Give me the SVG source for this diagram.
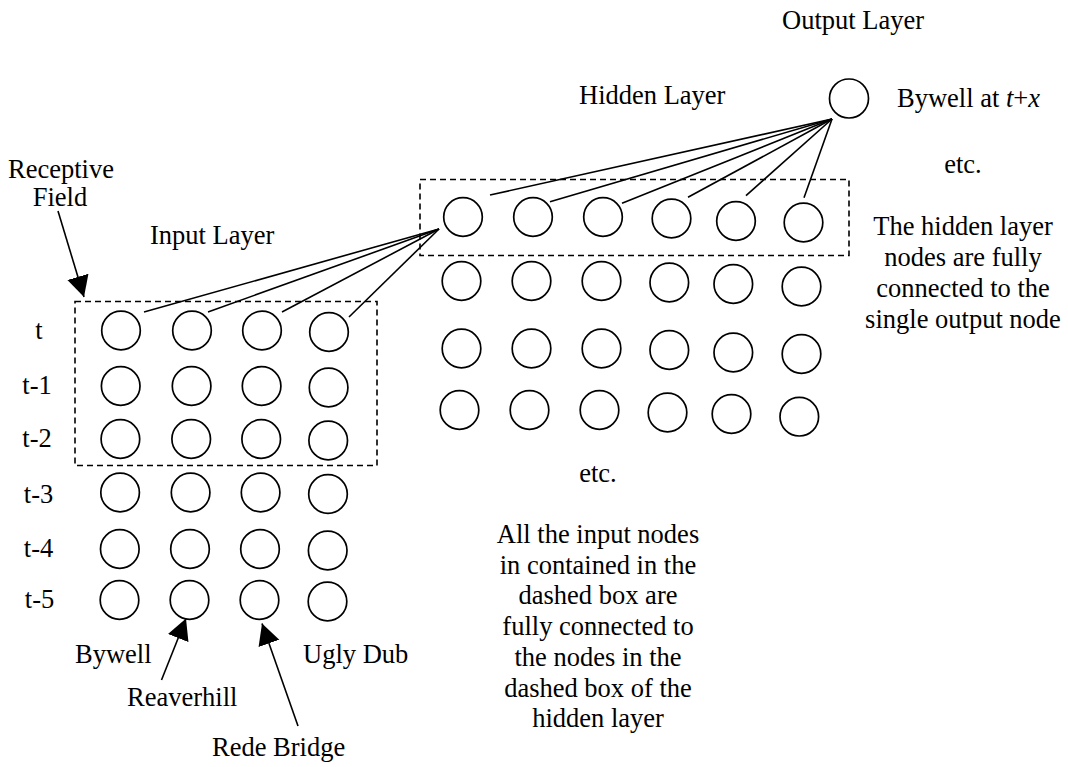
<svg xmlns="http://www.w3.org/2000/svg" width="1068" height="767" viewBox="0 0 1068 767">
  <style>
    .node { fill: none; stroke: #000; stroke-width: 1.7; }
    .field { fill: none; stroke: #000; stroke-width: 1.6; stroke-dasharray: 6 4; }
    .link { stroke: #000; stroke-width: 1.6; fill: none; }
    .pointer { stroke: #000; stroke-width: 1.6; fill: none; marker-end: url(#head); }
    text { font-family: "Liberation Serif", "Times New Roman", serif; font-size: 26.5px; fill: #000; }
    .mid { text-anchor: middle; }
  </style>
  <defs>
    <marker id="head" markerUnits="userSpaceOnUse" markerWidth="24" markerHeight="24" viewBox="0 -12 24 24" refX="21" refY="0" orient="auto">
      <path d="M0,-11 L21,0 L0,11 Z" fill="#000"/>
    </marker>
  </defs>
  <rect width="1068" height="767" fill="#fff"/>

  <!-- connections -->
  <g id="connectors">
    <!-- hidden node to receptive field inputs -->
    <line class="link" x1="439" y1="229" x2="144" y2="312"/>
    <line class="link" x1="439" y1="229" x2="208" y2="312"/>
    <line class="link" x1="439" y1="229" x2="282" y2="312"/>
    <line class="link" x1="439" y1="229" x2="349" y2="317"/>
    <!-- output node to hidden row -->
    <line class="link" x1="832" y1="119" x2="490" y2="195"/>
    <line class="link" x1="832" y1="119" x2="550" y2="201.7"/>
    <line class="link" x1="832" y1="119" x2="622" y2="203.3"/>
    <line class="link" x1="832" y1="119" x2="688" y2="197.3"/>
    <line class="link" x1="832" y1="119" x2="746" y2="195.7"/>
    <line class="link" x1="832" y1="119" x2="804" y2="197.7"/>
    <!-- label pointers -->
    <line class="pointer" x1="58" y1="211" x2="84" y2="297"/>
    <line class="pointer" x1="161.5" y1="680" x2="186" y2="618.5"/>
    <line class="pointer" x1="298" y1="726" x2="262" y2="623.5"/>
  </g>

  <!-- receptive field boxes -->
  <g id="input-field">
    <rect class="field" x="75" y="301.5" width="302" height="164"/>
  </g>
  <g id="hidden-field">
    <rect class="field" x="420" y="179.5" width="429" height="76"/>
  </g>

  <!-- input layer -->
  <g id="input-layer">
    <circle class="node" cx="121" cy="330.5" r="19.3"/>
    <circle class="node" cx="192" cy="330.5" r="19.3"/>
    <circle class="node" cx="262" cy="330.5" r="19.3"/>
    <circle class="node" cx="329" cy="332" r="19.3"/>

    <circle class="node" cx="120.7" cy="386" r="19.3"/>
    <circle class="node" cx="191.6" cy="386" r="19.3"/>
    <circle class="node" cx="261.6" cy="386" r="19.3"/>
    <circle class="node" cx="328.6" cy="387.5" r="19.3"/>

    <circle class="node" cx="120.4" cy="439" r="19.3"/>
    <circle class="node" cx="191.2" cy="439" r="19.3"/>
    <circle class="node" cx="261.2" cy="439" r="19.3"/>
    <circle class="node" cx="328.2" cy="440.5" r="19.3"/>

    <circle class="node" cx="120.1" cy="492.5" r="19.3"/>
    <circle class="node" cx="190.6" cy="492.5" r="19.3"/>
    <circle class="node" cx="260.6" cy="492.5" r="19.3"/>
    <circle class="node" cx="328" cy="494" r="19.3"/>

    <circle class="node" cx="119.8" cy="549" r="19.3"/>
    <circle class="node" cx="190" cy="549" r="19.3"/>
    <circle class="node" cx="260" cy="549" r="19.3"/>
    <circle class="node" cx="327.7" cy="550.5" r="19.3"/>

    <circle class="node" cx="119.5" cy="600" r="19.3"/>
    <circle class="node" cx="189.5" cy="600" r="19.3"/>
    <circle class="node" cx="259.5" cy="600" r="19.3"/>
    <circle class="node" cx="327.5" cy="601.5" r="19.3"/>
  </g>

  <!-- hidden layer -->
  <g id="hidden-layer">
    <circle class="node" cx="463" cy="217" r="19.3"/>
    <circle class="node" cx="533" cy="217" r="19.3"/>
    <circle class="node" cx="603" cy="217" r="19.3"/>
    <circle class="node" cx="671.5" cy="218.5" r="19.3"/>
    <circle class="node" cx="736" cy="221" r="19.3"/>
    <circle class="node" cx="803.5" cy="222.5" r="19.3"/>

    <circle class="node" cx="461.5" cy="281" r="19.3"/>
    <circle class="node" cx="531.5" cy="281" r="19.3"/>
    <circle class="node" cx="601.5" cy="281" r="19.3"/>
    <circle class="node" cx="669.3" cy="282.5" r="19.3"/>
    <circle class="node" cx="733.3" cy="284" r="19.3"/>
    <circle class="node" cx="801.5" cy="286.5" r="19.3"/>

    <circle class="node" cx="461.5" cy="348.5" r="19.3"/>
    <circle class="node" cx="531.5" cy="348.5" r="19.3"/>
    <circle class="node" cx="601.5" cy="348.5" r="19.3"/>
    <circle class="node" cx="669.3" cy="350" r="19.3"/>
    <circle class="node" cx="733.3" cy="352.5" r="19.3"/>
    <circle class="node" cx="801.5" cy="354" r="19.3"/>

    <circle class="node" cx="459.5" cy="410" r="19.3"/>
    <circle class="node" cx="529.5" cy="410" r="19.3"/>
    <circle class="node" cx="599.5" cy="410" r="19.3"/>
    <circle class="node" cx="667.5" cy="412.5" r="19.3"/>
    <circle class="node" cx="731.5" cy="414" r="19.3"/>
    <circle class="node" cx="799.3" cy="416.7" r="19.3"/>
  </g>

  <!-- output layer -->
  <g id="output-node">
    <circle class="node" cx="849" cy="98.5" r="19.5"/>
  </g>

  <!-- layer titles -->
  <g id="titles">
    <text x="782" y="29">Output Layer</text>
    <text x="579" y="104">Hidden Layer</text>
    <text x="150" y="244">Input Layer</text>
    <text class="mid" x="61" y="178">Receptive</text>
    <text class="mid" x="60" y="206">Field</text>
    <text x="897" y="107">Bywell at <tspan font-style="italic">t</tspan>+<tspan font-style="italic">x</tspan></text>
  </g>

  <!-- time step labels -->
  <g id="time-labels">
    <text class="mid" x="39" y="339">t</text>
    <text class="mid" x="37" y="394">t-1</text>
    <text class="mid" x="37" y="447">t-2</text>
    <text class="mid" x="38.5" y="503">t-3</text>
    <text class="mid" x="38.5" y="557">t-4</text>
    <text class="mid" x="39.5" y="608">t-5</text>
  </g>

  <!-- station labels -->
  <g id="stations">
    <text x="75" y="663">Bywell</text>
    <text x="303" y="663">Ugly Dub</text>
    <text x="127" y="706">Reaverhill</text>
    <text x="212" y="756">Rede Bridge</text>
  </g>

  <!-- notes -->
  <g id="note-hidden">
    <text class="mid" x="963" y="173">etc.</text>
    <text class="mid" x="963" y="235">The hidden layer</text>
    <text class="mid" x="963" y="266">nodes are fully</text>
    <text class="mid" x="963" y="297">connected to the</text>
    <text class="mid" x="963" y="328">single output node</text>
  </g>
  <g id="note-input">
    <text class="mid" x="598" y="482">etc.</text>
    <text class="mid" x="598" y="543">All the input nodes</text>
    <text class="mid" x="598" y="573.7">in contained in the</text>
    <text class="mid" x="598" y="604.4">dashed box are</text>
    <text class="mid" x="598" y="635.1">fully connected to</text>
    <text class="mid" x="598" y="665.8">the nodes in the</text>
    <text class="mid" x="598" y="696.5">dashed box of the</text>
    <text class="mid" x="598" y="727.2">hidden layer</text>
  </g>
</svg>
